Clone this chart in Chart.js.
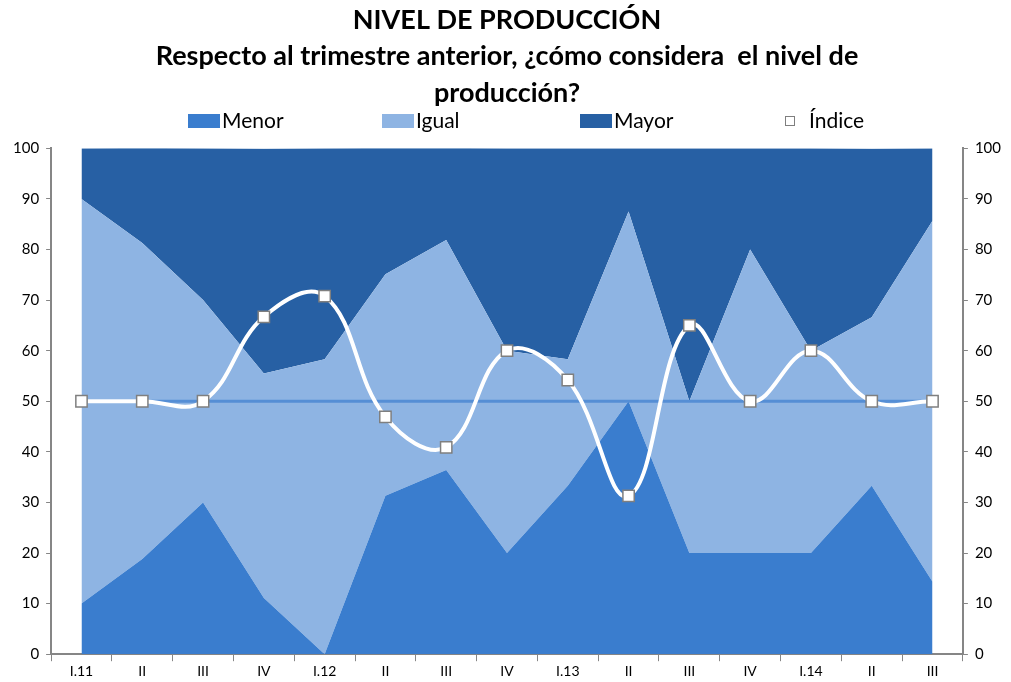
<!DOCTYPE html>
<html><head><meta charset="utf-8">
<script src="https://cdn.jsdelivr.net/npm/chart.js@4.4.0/dist/chart.umd.min.js"></script>
<style>html,body{margin:0;padding:0;background:#fff}#wrap{width:1011px;height:682px;position:relative}</style>
</head><body><div id="wrap"><canvas id="c"></canvas></div>
<script>
const categorias = ['I.11','II','III','IV','I.12','II','III','IV','I.13','II','III','IV','I.14','II','III'];
const menor  = [10, 18.8, 30, 11.1, 0, 31.3, 36.4, 20, 33.3, 50, 20, 20, 20, 33.3, 14.3];
const igual  = [80, 62.5, 40, 44.4, 58.3, 43.8, 45.5, 40, 25, 37.5, 30, 60, 40, 33.3, 71.4];
const mayor  = [10, 18.8, 30, 44.4, 41.7, 25, 18.2, 40, 41.7, 12.5, 50, 20, 40, 33.3, 14.3];
const indice = [50, 50, 50, 66.7, 70.8, 46.9, 40.9, 60, 54.2, 31.3, 65, 50, 60, 50, 50];
const referencia = [50, 50, 50, 50, 50, 50, 50, 50, 50, 50, 50, 50, 50, 50, 50];
const tituloLineas = ['NIVEL DE PRODUCCIÓN', 'Respecto al trimestre anterior, ¿cómo considera  el nivel de', 'producción?'];

const C_MENOR = '#3A7DCE', C_IGUAL = '#8EB4E3', C_MAYOR = '#2760A4', C_REF = '#558ED5';
const AXIS = '#868686';
const FONT = "Lato, 'Open Sans', sans-serif";

const legendPlugin = {
  id: 'customLegend',
  afterDraw(chart) {
    const ctx = chart.ctx;
    const y = 121;
    const items = [
      {text: 'Menor', color: C_MENOR, x: 188, kind: 'box'},
      {text: 'Igual', color: C_IGUAL, x: 382, kind: 'box'},
      {text: 'Mayor', color: C_MAYOR, x: 580, kind: 'box'},
      {text: 'Índice', color: '#fff', x: 785, kind: 'marker'}
    ];
    ctx.save();
    ctx.font = "21px " + FONT;
    ctx.textBaseline = 'middle';
    items.forEach(it => {
      if (it.kind === 'box') {
        ctx.fillStyle = it.color;
        ctx.fillRect(it.x, y - 7, 32, 14);
        ctx.fillStyle = '#000';
        ctx.fillText(it.text, it.x + 34, y);
      } else {
        ctx.fillStyle = '#fff';
        ctx.strokeStyle = '#7F7F7F';
        ctx.lineWidth = 1;
        ctx.fillRect(it.x, y - 5, 10, 10);
        ctx.strokeRect(it.x + 0.5, y - 4.5, 9, 9);
        ctx.fillStyle = '#000';
        ctx.fillText(it.text, it.x + 24, y);
      }
    });
    ctx.restore();
  }
};

new Chart(document.getElementById('c'), {
  type: 'line',
  data: {
    labels: categorias,
    datasets: [
      {label: 'Índice', data: indice, yAxisID: 'y2', borderColor: '#fff', borderWidth: 4, tension: 0.4,
       pointStyle: 'rect', pointRadius: 8, pointBackgroundColor: '#fff', pointBorderColor: '#7F7F7F', pointBorderWidth: 1.5, fill: false},
      {label: 'ref', data: referencia, yAxisID: 'y2', borderColor: C_REF, borderWidth: 3, pointRadius: 0, fill: false, tension: 0},
      {label: 'Menor', data: menor, yAxisID: 'y', backgroundColor: C_MENOR, borderWidth: 0, pointRadius: 0, fill: 'origin', tension: 0},
      {label: 'Igual', data: igual, yAxisID: 'y', backgroundColor: C_IGUAL, borderWidth: 0, pointRadius: 0, fill: '-1', tension: 0},
      {label: 'Mayor', data: mayor, yAxisID: 'y', backgroundColor: C_MAYOR, borderWidth: 0, pointRadius: 0, fill: '-1', tension: 0}
    ]
  },
  options: {
    responsive: true,
    maintainAspectRatio: false,
    animation: false,
    layout: {padding: {left: 6, right: 3, top: 0, bottom: 0}},
    plugins: {
      legend: {display: false},
      tooltip: {enabled: false},
      title: {display: true, text: tituloLineas, color: '#000',
        font: {family: FONT, size: 27, weight: 'bold', lineHeight: 1.35},
        padding: {top: 2, bottom: 37}}
    },
    scales: {
      x: {
        offset: true,
        grid: {offset: true, drawOnChartArea: false, drawTicks: true, tickLength: 7, color: AXIS},
        border: {color: AXIS, width: 2},
        ticks: {color: '#000', font: {family: FONT, size: 14}, padding: 2, maxRotation: 0, autoSkip: false}
      },
      y: {
        stacked: true, min: 0, max: 100,
        position: 'left',
        grid: {drawOnChartArea: false, drawTicks: true, tickLength: 5, color: AXIS},
        border: {color: AXIS, width: 2},
        ticks: {stepSize: 10, color: '#000', font: {family: FONT, size: 15}, padding: 7}
      },
      y2: {
        stacked: false, min: 0, max: 100,
        position: 'right',
        grid: {drawOnChartArea: false, drawTicks: true, tickLength: 5, color: AXIS},
        border: {color: AXIS, width: 2},
        ticks: {stepSize: 10, color: '#000', font: {family: FONT, size: 15}, padding: 7}
      }
    }
  },
  plugins: [legendPlugin]
});
</script>
</body></html>
